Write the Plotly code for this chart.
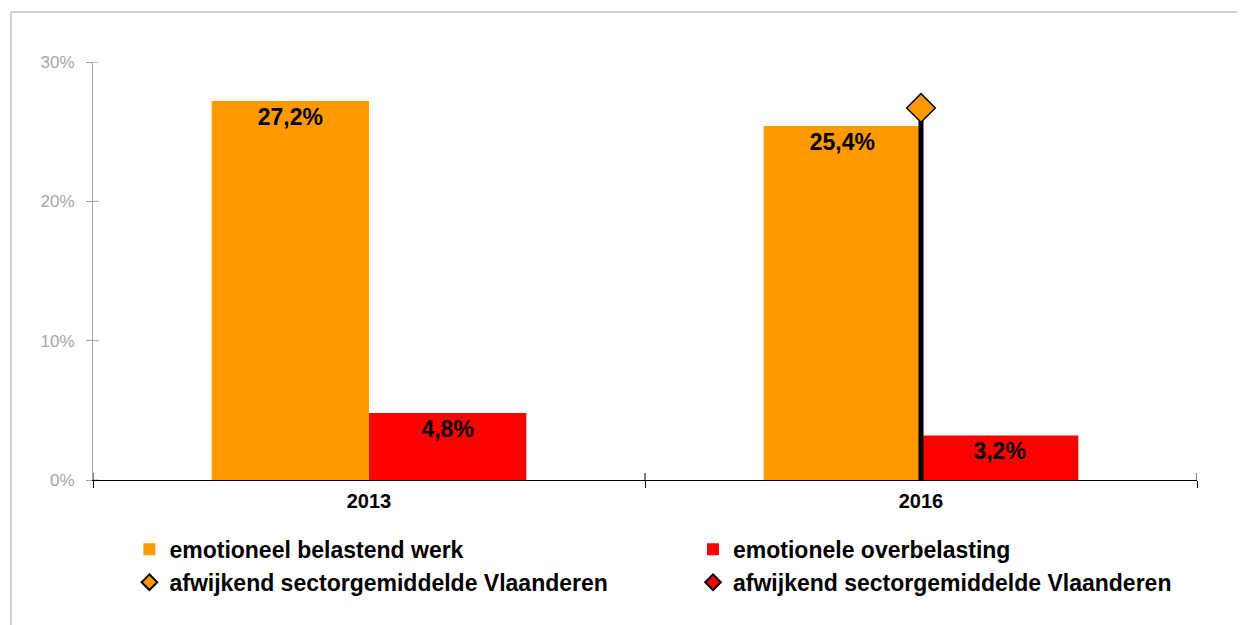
import plotly.graph_objects as go

# data uit de grafiek
jaren = ["2013", "2016"]
belastend_werk = [27.2, 25.4]
overbelasting = [4.8, 3.2]
# sectorgemiddelde Vlaanderen, alleen waar het afwijkt
sector_belastend = [None, 26.7]
sector_overbelasting = [None, None]
y_ticks = [0, 10, 20, 30]
y_labels = ["0%", "10%", "20%", "30%"]

oranje = "#FF9900"
rood = "#FF0000"
grijs = "#A6A6A6"
lettertype = "Arial, Liberation Sans, sans-serif"

fig = go.Figure()

# staven (elke kleur in een eigen legendekolom)
fig.add_trace(go.Bar(x=jaren, y=belastend_werk, name="emotioneel belastend werk",
                     marker_color=oranje, legend="legend"))
fig.add_trace(go.Bar(x=jaren, y=overbelasting, name="emotionele overbelasting",
                     marker_color=rood, legend="legend2"))

fig.update_traces(
    texttemplate="%{y:.1f}%",
    textposition="inside",
    insidetextanchor="end",
    textangle=0,
    constraintext="none",
    insidetextfont=dict(family=lettertype, size=23, color="black", weight="bold"),
    marker_line_width=0,
    selector=dict(type="bar"),
)


# ruit + zwarte lijn tot 0 (via error bar naar beneden)
def sector_trace(waarden, kleur, naam, legende):
    naar_nul = [v if v is not None else 0 for v in waarden]
    return go.Scatter(
        x=jaren, y=waarden, mode="markers", name=naam, legend=legende,
        marker=dict(symbol="diamond", size=22, color=kleur, line=dict(color="black", width=1.5)),
        error_y=dict(type="data", symmetric=False, array=[0] * len(waarden), arrayminus=naar_nul,
                     color="black", thickness=5, width=0),
    )


fig.add_trace(sector_trace(sector_belastend, oranje, "afwijkend sectorgemiddelde Vlaanderen", "legend"))
fig.add_trace(sector_trace(sector_overbelasting, rood, "afwijkend sectorgemiddelde Vlaanderen", "legend2"))

# kleine streepjes aan de binnenkant van de assen (kruisende ticks)
vormen = []
for v in y_ticks:
    vormen.append(dict(type="line", xref="paper", xsizemode="pixel", xanchor=0, x0=0, x1=6,
                       yref="y", y0=v, y1=v, line=dict(color=grijs, width=1)))
for b in [i - 0.5 for i in range(len(jaren) + 1)]:
    vormen.append(dict(type="line", xref="x", x0=b, x1=b, yref="paper", ysizemode="pixel",
                       yanchor=0, y0=0, y1=7, line=dict(color="black", width=1)))
# kader rond de grafiek (links en boven)
vormen.append(dict(type="line", xref="paper", xsizemode="pixel", xanchor=0, x0=-82, x1=-82,
                   yref="paper", ysizemode="pixel", yanchor=1, y0=50, y1=-700, line=dict(color=grijs, width=1)))
vormen.append(dict(type="line", xref="paper", xsizemode="pixel", xanchor=0, x0=-82, x1=1300,
                   yref="paper", ysizemode="pixel", yanchor=1, y0=50, y1=50, line=dict(color=grijs, width=1)))

legende_stijl = dict(
    orientation="v", xanchor="left", yanchor="top", y=-0.1144,
    itemsizing="constant", traceorder="normal", tracegroupgap=0,
    font=dict(family=lettertype, size=23, color="black", weight="bold"),
)

fig.update_layout(
    width=1245, height=625,
    margin=dict(l=85, r=56, t=54, b=153, autoexpand=False),
    paper_bgcolor="white", plot_bgcolor="white",
    separators=",.",
    barmode="group", bargap=0.43, bargroupgap=0,
    font=dict(family=lettertype),
    shapes=vormen,
    showlegend=True,
    legend=dict(legende_stijl, x=0.033),
    legend2=dict(legende_stijl, x=0.5435),
    xaxis=dict(
        type="category", range=[-0.5, 1.5], showline=True, linecolor="black", linewidth=1,
        ticks="outside", ticklen=7, tickcolor="black", tickson="boundaries", showgrid=False,
        tickfont=dict(family=lettertype, size=20, color="black", weight="bold"), ticklabelstandoff=3,
    ),
    yaxis=dict(
        range=[0, 30], tickvals=y_ticks, ticktext=y_labels, showline=True, linecolor=grijs,
        ticks="outside", ticklen=6, tickcolor=grijs, showgrid=False, zeroline=False,
        tickfont=dict(family=lettertype, size=17, color=grijs), ticklabelstandoff=8,
    ),
)

fig.write_html("out.html")
